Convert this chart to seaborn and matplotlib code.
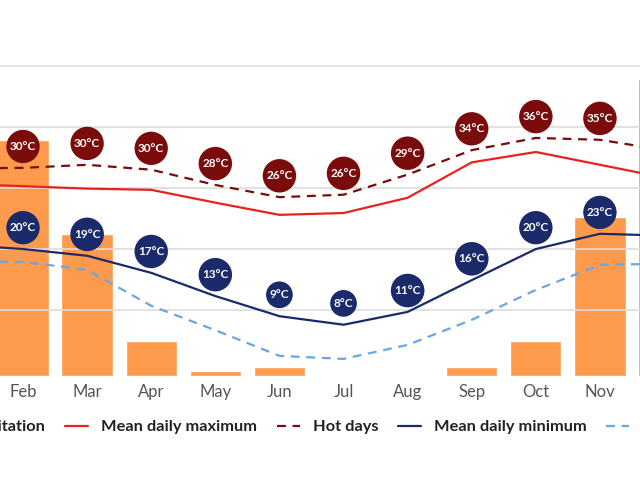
import matplotlib
matplotlib.use("Agg")
import matplotlib.pyplot as plt
import seaborn as sns
import pandas as pd
import numpy as np

months = ["Jan","Feb","Mar","Apr","May","Jun","Jul","Aug","Sep","Oct","Nov","Dec"]
precip = [220, 193, 116, 29, 4, 7.4, 0, 0, 7.4, 29, 130, 243]
mean_max = [31.5, 31.1, 30.7, 30.5, 28.4, 26.4, 26.7, 29.2, 35.0, 36.7, 34.6, 32.5]
hot_days = [34.0, 34.1, 34.6, 33.8, 31.3, 29.3, 29.7, 33.0, 37.0, 39.0, 38.7, 37.0]
mean_min = [21.5, 20.8, 19.7, 16.9, 13.1, 9.8, 8.4, 10.5, 15.7, 20.8, 23.3, 23.0]
cold_nights = [18.7, 18.7, 17.4, 11.5, 7.5, 3.3, 2.8, 5.1, 9.2, 14.1, 18.2, 18.4]
hot_labels = [31, 30, 30, 30, 28, 26, 26, 29, 34, 36, 35, 33]
min_labels = [21, 20, 19, 17, 13, 9, 8, 11, 16, 20, 23, 22]

df = pd.DataFrame(dict(m=np.arange(12), precip=precip, mx=mean_max, hot=hot_days,
                       mn=mean_min, cold=cold_nights))

sns.set_theme(style="white")
plt.rcParams['font.family'] = ['Lato', 'DejaVu Sans']

fig = plt.figure(figsize=(6.4, 4.8), dpi=100)
ax = fig.add_axes([0, 104/480, 1, 376/480])
ax2 = ax.twinx()
ax.set_zorder(2); ax.patch.set_visible(False)

ax2.bar(df.m, df.precip, width=0.8, color="#fd9a4c", label="Precipitation")
ax2.set_ylim(0, 61.6 * 5)
ax2.set_yticks([])
for s in ax2.spines.values(): s.set_visible(False)

sns.lineplot(x="m", y="mx", data=df, ax=ax, color="#e8231f", lw=1.6, label="Mean daily maximum")
sns.lineplot(x="m", y="hot", data=df, ax=ax, color="#7b0c0c", lw=1.6, dashes=(4, 3), label="Hot days")
sns.lineplot(x="m", y="mn", data=df, ax=ax, color="#1b2a6b", lw=1.6, label="Mean daily minimum")
sns.lineplot(x="m", y="cold", data=df, ax=ax, color="#6aa6e0", lw=1.6, dashes=(4, 3), label="Cold nights")

for i in range(1, 11):
    ax.text(i, hot_days[i] + 3.5, f"{hot_labels[i]}°C", ha="center", va="center", color="white",
            fontsize=8.5, fontweight="bold",
            bbox=dict(boxstyle="circle,pad=0.3", fc="#7b0c0c", ec="none"))
    ax.text(i, mean_min[i] + 3.5, f"{min_labels[i]}°C", ha="center", va="center", color="white",
            fontsize=8.5, fontweight="bold",
            bbox=dict(boxstyle="circle,pad=0.3", fc="#1b2a6b", ec="none"))

ax.set_ylim(0, 61.6)
ax.set_yticks([10.8, 20.8, 30.8, 40.8, 50.8])
ax.set_yticklabels([])
ax.tick_params(axis="y", length=0)
ax.grid(axis="y", color="#dddddd", lw=1.2)
ax.set_xticks(range(12))
ax.set_xticklabels(months, fontsize=12, color="#555555")
ax.tick_params(axis="x", length=0, pad=6)
ax.set_xlabel(""); ax.set_ylabel("")
for s in ax.spines.values(): s.set_visible(False)

h1, l1 = ax2.get_legend_handles_labels()
h2, l2 = ax.get_legend_handles_labels()
ax.get_legend().remove()
fig.legend(h1 + h2, l1 + l2, loc="center", bbox_to_anchor=(0.5, 1 - 427/480), ncol=5,
           frameon=False, prop=dict(weight="bold", size=11.8), handlelength=1.4,
           columnspacing=1.2, labelcolor="#222222")
ax.set_xlim(0.641, 10.625)
ax2.set_xlim(0.641, 10.625)
fig.savefig("out.png", dpi=100)
